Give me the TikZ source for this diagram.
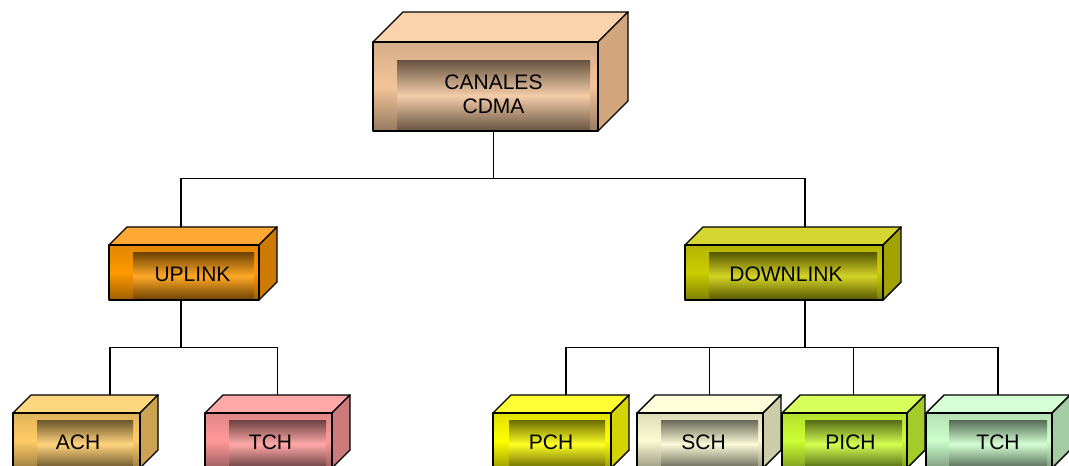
\documentclass[tikz,border=0pt]{standalone}
\usepackage{fontspec}
\setmainfont{Liberation Sans}
\usetikzlibrary{calc,fit,backgrounds}

% palettes: F = front face, T = top face, S = side face
\definecolor{rootF}{HTML}{F2C49A}\definecolor{rootT}{HTML}{FAD3AC}\definecolor{rootS}{HTML}{D3A57D}
\definecolor{upF}{HTML}{FF9900}\definecolor{upT}{HTML}{FFA833}\definecolor{upS}{HTML}{CC7A00}
\definecolor{downF}{HTML}{CCCC00}\definecolor{downT}{HTML}{D6D633}\definecolor{downS}{HTML}{A3A300}
\definecolor{achF}{HTML}{FFCC66}\definecolor{achT}{HTML}{FFD680}\definecolor{achS}{HTML}{CCA352}
\definecolor{tchF}{HTML}{FF9999}\definecolor{tchT}{HTML}{FFA8A8}\definecolor{tchS}{HTML}{CC7A7A}
\definecolor{pchF}{HTML}{FFFF00}\definecolor{pchT}{HTML}{FFFF33}\definecolor{pchS}{HTML}{D4D400}
\definecolor{schF}{HTML}{FAFAD2}\definecolor{schT}{HTML}{FFFFDB}\definecolor{schS}{HTML}{CCCCA8}
\definecolor{pichF}{HTML}{CCFF33}\definecolor{pichT}{HTML}{D6FF5C}\definecolor{pichS}{HTML}{A3CC29}
\definecolor{tcgF}{HTML}{CCFFCC}\definecolor{tcgT}{HTML}{D6FFD6}\definecolor{tcgS}{HTML}{A3CCA3}

\tikzset{
  conn/.style={line width=1.2pt},
  face/.style={draw=black, line width=1.4pt, line join=round},
  labeltext/.style={inner sep=0pt, font=\fontsize{21}{24}\selectfont, align=center},
}

% #1 name, #2 front NW, #3 front SE, #4 depth, #5 panel NW, #6 panel SE,
% #7 palette, #8 label, #9 horizontal label offset
\newcommand\chanbox[9]{%
  \coordinate (#1-nw) at #2;
  \coordinate (#1-se) at #3;
  \coordinate (#1-ne) at (#1-se |- #1-nw);
  \filldraw[face, fill=#7T] (#1-nw) -- ++(#4,-#4) -- ($(#1-ne)+(#4,-#4)$) -- (#1-ne) -- cycle;
  \filldraw[face, fill=#7S] (#1-ne) -- ++(#4,-#4) -- ($(#1-se)+(#4,-#4)$) -- (#1-se) -- cycle;
  \node[fit=(#1-nw)(#1-se), inner sep=0pt, top color=#7F!88!black,
        bottom color=#7F!62!black, middle color=#7F] (#1-f) {};
  \node[fit={#5 #6}, inner sep=0pt, top color=#7F!42!black, bottom color=#7F!42!black,
        middle color=#7F!85!white] (#1) {};
  \node[labeltext] (#1-t) at ($(#1.center)+(#9,-1.5)$) {#8};
  \draw[face] (#1-nw) rectangle (#1-se);
}

\begin{document}
\begin{tikzpicture}[x=1pt, y=-1pt]
\useasboundingbox (0,0) rectangle (1069,466);
\clip (0,0) rectangle (1069,466);

\chanbox{root}{(373,42)}{(598,131)}{30}{(397,60)}{(590,131)}{root}{CANALES\\CDMA}{0}
\chanbox{up}{(109,245)}{(259,300)}{18}{(133,252)}{(254,300)}{up}{UPLINK}{-1}
\chanbox{down}{(685,245)}{(883,300)}{18}{(709,252)}{(877,300)}{down}{DOWNLINK}{-7}
\chanbox{ach}{(13,413)}{(140,468)}{18}{(37,420)}{(133,468)}{ach}{ACH}{-7}
\chanbox{tch}{(205,413)}{(332,468)}{18}{(229,420)}{(326,468)}{tch}{TCH}{-7}
\chanbox{pch}{(493,413)}{(611,468)}{18}{(509,420)}{(605,468)}{pch}{PCH}{-6}
\chanbox{sch}{(637,413)}{(763,468)}{18}{(661,420)}{(758,468)}{sch}{SCH}{-6}
\chanbox{pich}{(782,413)}{(907,468)}{18}{(805,420)}{(902,468)}{pich}{PICH}{-3}
\chanbox{tcg}{(926,413)}{(1052,468)}{18}{(949,420)}{(1047,468)}{tcg}{TCH}{0}

% tree connectors, kept behind the boxes
\begin{pgfonlayer}{background}
  \fill[white] (0,0) rectangle (1069,466);
  \draw[conn] (root.south) -- ++(0,47) coordinate (j0);
  \draw[conn] (j0) -| ([xshift=-12.5pt]up.north);
  \draw[conn] (j0) -| ([xshift=12pt]down.north);
  \draw[conn] ([xshift=-12.5pt]up.south) -- ++(0,47) coordinate (j1);
  \draw[conn] (j1) -| ([xshift=25pt]ach.north);
  \draw[conn] (j1) -| (tch.north);
  \draw[conn] ([xshift=12pt]down.south) -- ++(0,47) coordinate (j2);
  \draw[conn] (j2) -| ([xshift=9pt]pch.north);
  \draw[conn] (j2) -| (sch.north);
  \draw[conn] (j2) -| (pich.north);
  \draw[conn] (j2) -| (tcg.north);
\end{pgfonlayer}
\end{tikzpicture}
\end{document}
